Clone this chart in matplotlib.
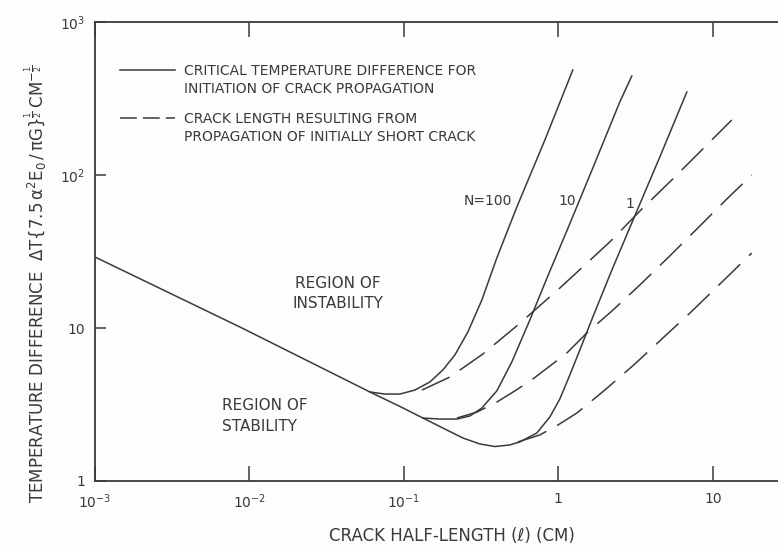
import matplotlib
matplotlib.use("Agg")
import matplotlib.pyplot as plt
from matplotlib.lines import Line2D
from matplotlib.ticker import NullLocator

plt.rcParams["font.family"] = ["DejaVu Sans"]
plt.rcParams["mathtext.fontset"] = "dejavusans"
plt.rcParams["mathtext.default"] = "regular"

ink = "#3a3a3a"

# crack half-length l (cm) and normalised temperature difference
# solid curve for N = 1 (also carries the common l^-1/2 branch on the left)
l_n1 = [0.001, 0.00868, 0.0602, 0.0956, 0.1327, 0.241, 0.3103, 0.388, 0.485,
        0.563, 0.726, 0.881, 1.023, 1.187, 1.378, 1.672, 2.22, 2.99, 4.54, 6.79]
dt_n1 = [29.1, 10.15, 3.82, 3.05, 2.58, 1.91, 1.746, 1.68, 1.72,
         1.80, 2.06, 2.62, 3.44, 4.93, 7.18, 11.8, 23.9, 48.6, 131.1, 348.7]

# solid curve for N = 100 (leaves the common branch near l = 0.06)
l_n100 = [0.0602, 0.0753, 0.0942, 0.1178, 0.1474, 0.1788, 0.2138, 0.2596,
          0.3197, 0.3997, 0.5387, 0.818, 1.241]
dt_n100 = [3.82, 3.70, 3.70, 3.93, 4.44, 5.32, 6.66, 9.42,
           15.24, 28.7, 61.8, 169.3, 485.7]

# solid curve for N = 10
l_n10 = [0.1327, 0.171, 0.2203, 0.2674, 0.3197, 0.3997, 0.50, 0.654, 0.855,
         1.135, 1.672, 2.50, 2.99]
dt_n10 = [2.58, 2.54, 2.54, 2.66, 3.00, 3.88, 6.0, 11.28, 21.9,
          43.1, 111.1, 300.0, 443.7]

# dashed: crack length after propagation of an initially short crack
l_d100 = [0.1308, 0.1985, 0.3246, 0.5469, 1.023, 2.154, 3.47, 5.51, 8.49, 13.27]
dt_d100 = [3.93, 4.78, 6.76, 10.46, 18.25, 36.5, 59.9, 94.2, 145.7, 228.8]

l_d10 = [0.2203, 0.297, 0.3997, 0.523, 0.684, 0.881, 1.135, 1.552, 2.22,
         3.37, 5.27, 8.0, 12.51, 17.88]
dt_d10 = [2.58, 2.82, 3.28, 3.88, 4.64, 5.64, 6.86, 9.42, 12.9,
          19.1, 29.6, 45.0, 70.7, 100.0]

l_d1 = [0.5469, 0.759, 0.993, 1.317, 2.0, 3.13, 4.75, 7.10, 10.78, 17.88]
dt_d1 = [1.80, 2.00, 2.32, 2.78, 3.93, 5.82, 8.60, 12.5, 18.8, 30.9]

x_ticks = [1e-3, 1e-2, 1e-1, 1, 10]
x_labels = ["10$^{-3}$", "10$^{-2}$", "10$^{-1}$", "1", "10"]
y_ticks = [1, 10, 100, 1000]
y_labels = ["1", "10", "10$^{2}$", "10$^{3}$"]

W, H = 778, 552
fig = plt.figure(figsize=(W / 100, H / 100), dpi=100, facecolor="#fdfdfb")
# the scan is cropped on the right, so the axes runs past the figure edge
ax = fig.add_axes([95 / W, 71 / H, 695 / W, 459 / H])
ax.set_facecolor("#fdfdfb")
ax.set_xscale("log")
ax.set_yscale("log")
ax.set_xlim(1e-3, 10 ** 1.5)
ax.set_ylim(1, 1000)

dash = (0, (20, 8))
ax.plot(l_n1, dt_n1, color=ink, lw=1.1)
ax.plot(l_n100, dt_n100, color=ink, lw=1.1)
ax.plot(l_n10, dt_n10, color=ink, lw=1.1)
ax.plot(l_d100, dt_d100, color=ink, lw=1.1, ls=dash)
ax.plot(l_d10, dt_d10, color=ink, lw=1.1, ls=dash)
ax.plot(l_d1, dt_d1, color=ink, lw=1.1, ls=dash)

ax.set_xticks(x_ticks)
ax.set_xticklabels(x_labels)
ax.set_yticks(y_ticks)
ax.set_yticklabels(y_labels)
ax.xaxis.set_minor_locator(NullLocator())
ax.yaxis.set_minor_locator(NullLocator())
ax.tick_params(axis="x", direction="in", length=11, width=1.1, color=ink,
               top=True, pad=8, labelsize=10, labelcolor=ink)
ax.tick_params(axis="y", direction="in", length=8, width=1.1, color=ink,
               right=True, pad=7, labelsize=10, labelcolor=ink)
for s in ax.spines.values():
    s.set_color(ink)
    s.set_linewidth(1.3)

ax.set_xlabel("CRACK HALF-LENGTH (\u2113) (CM)", fontsize=12, color=ink)
ax.xaxis.set_label_coords((452 - 95) / 695, -0.10)
ax.set_ylabel(r"TEMPERATURE DIFFERENCE  $\Delta T\{7.5\,\alpha^{2}E_{0}\,/\,\pi G\}^{\frac{1}{2}}\,CM^{-\frac{1}{2}}$",
              fontsize=12, color=ink)
ax.yaxis.set_label_coords(-0.066, 0.43)

# region and curve annotations
ax.text(0.0374, 16.8, "REGION OF\nINSTABILITY", ha="center", va="center",
        fontsize=11, color=ink, linespacing=1.45)
ax.text(0.0066, 2.66, "REGION OF\nSTABILITY", ha="left", va="center",
        fontsize=11, color=ink, linespacing=1.45)
ax.text(0.50, 68, "N=100", ha="right", va="center", fontsize=10, color=ink)
ax.text(1.30, 68, "10", ha="right", va="center", fontsize=10, color=ink)
ax.text(2.9, 65, "1", ha="center", va="center", fontsize=10, color=ink)

handles = [Line2D([], [], color=ink, lw=1.1),
           Line2D([], [], color=ink, lw=1.1, ls=(0, (11, 4)))]
first = ["CRITICAL TEMPERATURE DIFFERENCE FOR", "CRACK LENGTH RESULTING FROM"]
second = ["INITIATION OF CRACK PROPAGATION", "PROPAGATION OF INITIALLY SHORT CRACK"]
leg = ax.legend(handles, first, loc="upper left", bbox_to_anchor=(0.036, 0.909),
                frameon=False, borderpad=0, borderaxespad=0, fontsize=10,
                handlelength=3.95, handletextpad=0.65, labelspacing=2.43,
                labelcolor=ink)

fig.canvas.draw()
for t, s in zip(leg.get_texts(), second):
    bb = t.get_window_extent()
    fig.text(bb.x0 / W, (bb.y0 - 18) / H, s, fontsize=10, color=ink,
             ha="left", va="bottom")

fig.savefig("out.png", dpi=100, facecolor=fig.get_facecolor())
